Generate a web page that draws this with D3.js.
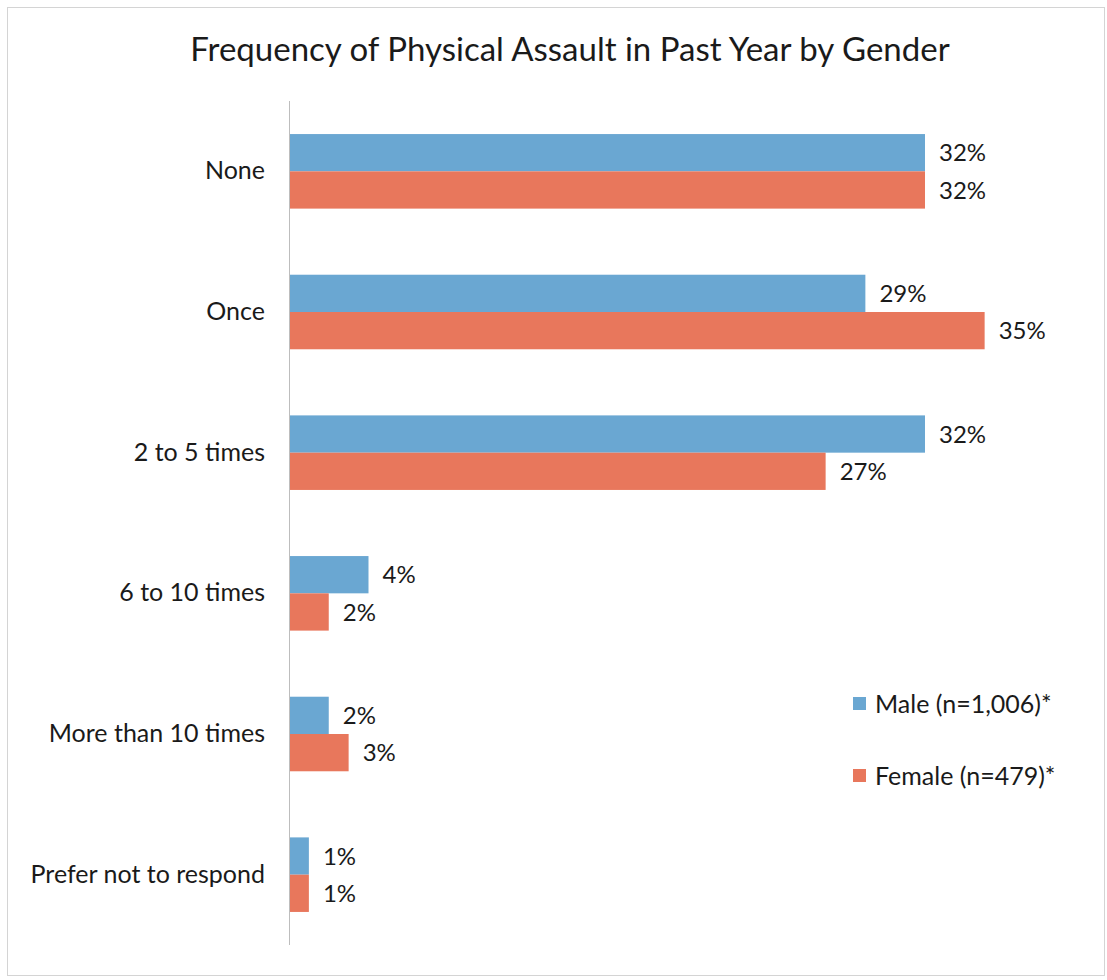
<!DOCTYPE html>
<html>
<head>
<meta charset="utf-8">
<script src="https://cdn.jsdelivr.net/npm/d3@7"></script>
<style>
  html, body { margin: 0; padding: 0; background: #fff; }
  svg text { font-family: Lato, "Open Sans", sans-serif; fill: #1a1a1a; }
</style>
</head>
<body>
<svg id="chart" width="1107" height="980"></svg>
<script>
// Survey responses: frequency of physical assault in the past year
const categories = ["None", "Once", "2 to 5 times", "6 to 10 times", "More than 10 times", "Prefer not to respond"];
const maleValues   = [32, 29, 32, 4, 2, 1];
const femaleValues = [32, 35, 27, 2, 3, 1];
const seriesNames  = ["Male (n=1,006)*", "Female (n=479)*"];
const seriesColors = ["#6aa7d2", "#e8775c"];
const chartTitle   = "Frequency of Physical Assault in Past Year by Gender";

const series = [maleValues, femaleValues];

const svg = d3.select("#chart");

// Outer frame
svg.append("rect")
  .attr("x", 7.5).attr("y", 7.5)
  .attr("width", 1097).attr("height", 968)
  .attr("fill", "none").attr("stroke", "#d4d4d4").attr("stroke-width", 1);

// Title
svg.append("text")
  .attr("x", 570).attr("y", 61)
  .attr("text-anchor", "middle")
  .attr("font-size", 33)
  .text(chartTitle);

const x0 = 289;
const x = d3.scaleLinear().domain([0, 32]).range([x0, 925]);

const y = d3.scaleBand()
  .domain(categories)
  .range([101, 945])
  .paddingInner(0.47)
  .paddingOuter(0.235);

const ySub = d3.scaleBand()
  .domain([0, 1])
  .range([0, y.bandwidth()]);

// Bars and value labels per series
series.forEach((vals, si) => {
  const g = svg.append("g");
  g.selectAll("rect")
    .data(vals)
    .join("rect")
    .attr("x", x0)
    .attr("y", (d, i) => y(categories[i]) + ySub(si))
    .attr("width", d => x(d) - x0)
    .attr("height", ySub.bandwidth())
    .attr("fill", seriesColors[si]);

  g.selectAll("text")
    .data(vals)
    .join("text")
    .attr("x", d => x(d) + 14)
    .attr("y", (d, i) => y(categories[i]) + ySub(si) + ySub.bandwidth() / 2)
    .attr("dy", "0.36em")
    .attr("font-size", 24)
    .text(d => d + "%");
});

// Category axis
const axis = svg.append("g")
  .attr("transform", `translate(${x0},0)`)
  .call(d3.axisLeft(y).tickSize(0).tickPadding(24));
axis.select(".domain").attr("stroke", "#bdbdbd").attr("d", "M0.5,101V945");
axis.selectAll("text")
  .attr("font-size", 25)
  .attr("font-family", "Lato, 'Open Sans', sans-serif")
  .attr("fill", "#1a1a1a");

// Legend
const legend = svg.append("g");
seriesNames.forEach((name, i) => {
  const ly = 704 + i * 72;
  legend.append("rect")
    .attr("x", 853).attr("y", ly - 7)
    .attr("width", 13).attr("height", 13)
    .attr("fill", seriesColors[i]);
  legend.append("text")
    .attr("x", 875).attr("y", ly)
    .attr("dy", "0.36em")
    .attr("font-size", 25)
    .text(name);
});
</script>
</body>
</html>
